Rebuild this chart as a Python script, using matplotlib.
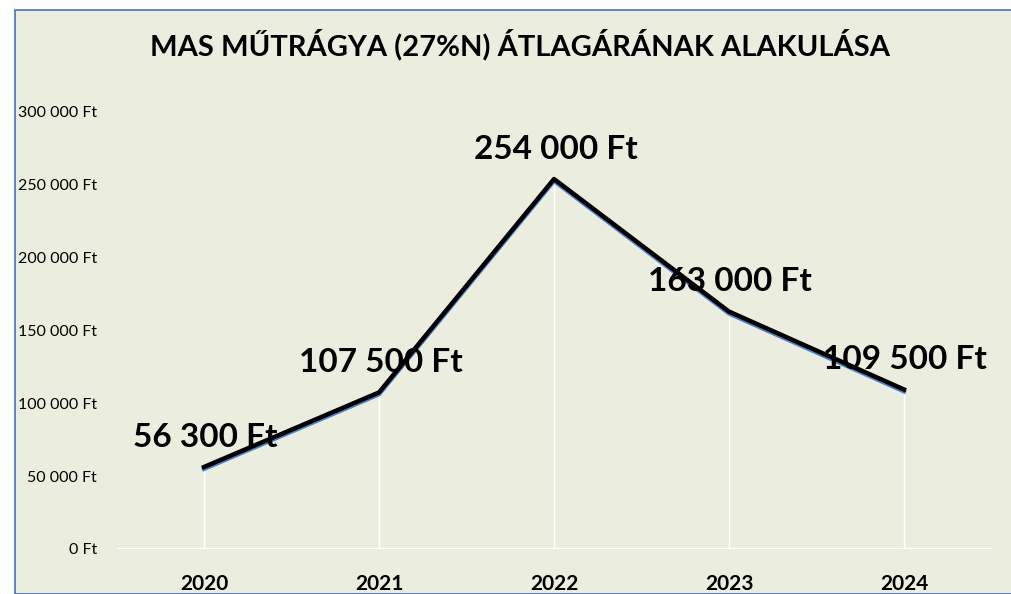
import matplotlib.pyplot as plt
from matplotlib.patches import Rectangle
import matplotlib.transforms as mtransforms

years = ["2020", "2021", "2022", "2023", "2024"]
prices = [56300, 107500, 254000, 163000, 109500]
yticks = [0, 50000, 100000, 150000, 200000, 250000, 300000]


def ft(v):
    # hungarian style: space as thousands separator
    return f"{v:,}".replace(",", " ") + " Ft"


W, H = 1011, 594
fig = plt.figure(figsize=(W / 100, H / 100), dpi=100)
fig.patch.set_facecolor("white")

# chart area background with blue border
bg = Rectangle((15 / W, 0), 1 - 15 / W + 0.01, (H - 10) / H, transform=fig.transFigure,
               facecolor="#EBEEDF", edgecolor="#4472C4", linewidth=1.2, zorder=-1)
fig.patches.append(bg)

ax = fig.add_axes([116.5 / W, 45 / H, 875 / W, 437 / H])
ax.set_facecolor("none")
x = list(range(len(years)))

# white drop lines and baseline
ax.vlines(x, 0, prices, color="white", linewidth=1, zorder=1)
ax.axhline(0, color="white", linewidth=1.5, zorder=1)

# blue line slightly below, black line on top
shift = mtransforms.offset_copy(ax.transData, fig=fig, x=0, y=-2, units="dots")
ax.plot(x, prices, color="#4A7EC8", linewidth=3, transform=shift, zorder=2)
ax.plot(x, prices, color="black", linewidth=3.2, zorder=3)

for xi, v in zip(x, prices):
    ax.annotate(ft(v), (xi, v), xytext=(1, 21.5), textcoords="offset points",
                ha="center", va="center", fontsize=24, fontweight="bold",
                family="Lato", color="black", zorder=4)

ax.set_xlim(-0.5, 4.5)
ax.set_ylim(0, 300000)
ax.set_yticks(yticks)
ax.set_yticklabels([ft(t) for t in yticks], fontsize=11.5, family="Lato")
ax.set_xticks(x)
ax.set_xticklabels(years, fontsize=15, fontweight="bold", family="Lato")
ax.tick_params(axis="both", length=0)
ax.tick_params(axis="y", pad=14)
ax.tick_params(axis="x", pad=18)
for s in ax.spines.values():
    s.set_visible(False)

fig.text(520 / W, 1 - 45 / H, "MAS MŰTRÁGYA (27%N) ÁTLAGÁRÁNAK ALAKULÁSA",
         ha="center", va="center", fontsize=21, fontweight="bold", family="Lato")

fig.savefig("out.png", dpi=100)
